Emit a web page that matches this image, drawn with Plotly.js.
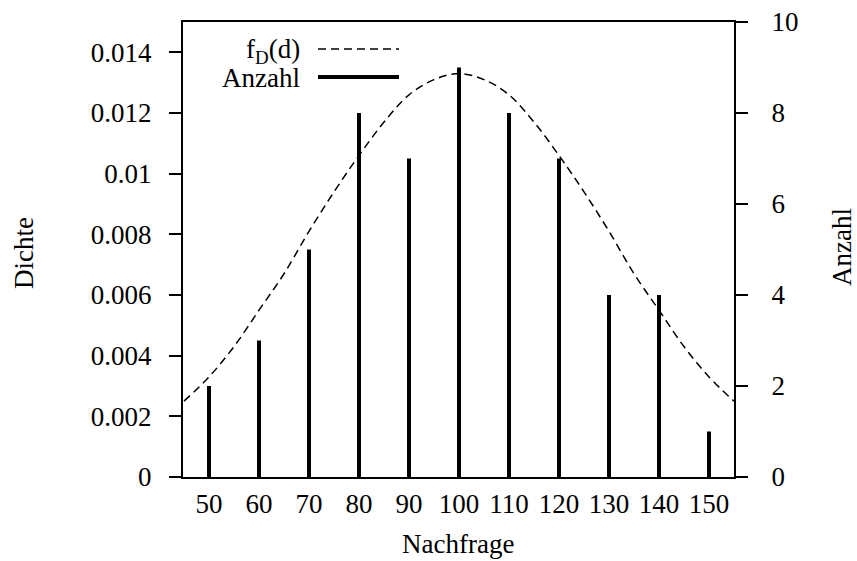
<!DOCTYPE html>
<html><head><meta charset="utf-8">
<script src="https://cdn.plot.ly/plotly-3.0.1.min.js"></script>
<style>body{margin:0;background:#fff}#c{width:857px;height:561px}</style>
</head><body><div id="c"></div>
<script>
// Counts (impulses, right axis)
const nachfrage = [50, 60, 70, 80, 90, 100, 110, 120, 130, 140, 150];
const anzahl = [2, 3, 5, 8, 7, 9, 8, 7, 4, 4, 1];
// Density curve (left axis)
const dX = [45, 50, 55, 60, 65, 70, 75, 80, 85, 90, 95, 100, 105, 110, 115, 120, 125, 130, 135, 140, 145, 150, 155];
const dY = [0.0025, 0.0033, 0.0043, 0.0055, 0.0067, 0.0081, 0.0094, 0.0106, 0.0117, 0.0126, 0.0131, 0.0133,
            0.0131, 0.0126, 0.0117, 0.0106, 0.0094, 0.0081, 0.0067, 0.0055, 0.0043, 0.0033, 0.0025];
const xTicks = [50, 60, 70, 80, 90, 100, 110, 120, 130, 140, 150];
const yTicks = [0, 0.002, 0.004, 0.006, 0.008, 0.01, 0.012, 0.014];
const yTickText = ['0', '0.002', '0.004', '0.006', '0.008', '0.01', '0.012', '0.014'];
const y2Ticks = [0, 2, 4, 6, 8, 10];

const F = {family: 'Liberation Serif, Times New Roman, serif', size: 27, color: '#000'};

const traces = [
  {type: 'scatter', mode: 'lines', x: dX, y: dY, yaxis: 'y',
   line: {color: '#000', width: 1.5, dash: '8px,5px', shape: 'spline'}, hoverinfo: 'skip'},
  {type: 'bar', x: nachfrage, y: anzahl, yaxis: 'y2', width: 0.8,
   marker: {color: '#000', line: {width: 0}}, hoverinfo: 'skip'}
];

const px2x = p => (p - 183) / 551;
const px2y = p => (477 - p) / 455;

const layout = {
  width: 857, height: 561,
  margin: {l: 183, r: 123, t: 22, b: 84},
  paper_bgcolor: '#fff', plot_bgcolor: '#fff',
  showlegend: false, font: F,
  xaxis: {range: [44.8, 155], tickvals: xTicks, ticks: 'inside', ticklen: 8, tickwidth: 2, tickcolor: '#000',
          showline: true, linecolor: '#000', linewidth: 2, mirror: true, showgrid: false, zeroline: false,
          ticklabelstandoff: 2, tickfont: F},
  yaxis: {range: [0, 0.015], tickvals: yTicks, ticktext: yTickText, ticks: 'outside', ticklen: 12, tickwidth: 2,
          tickcolor: '#000', showline: true, linecolor: '#000', linewidth: 2, showgrid: false, zeroline: false,
          ticklabelstandoff: 12, tickfont: F},
  yaxis2: {range: [0, 10], tickvals: y2Ticks, overlaying: 'y', side: 'right', ticks: 'outside', ticklen: 12,
           tickwidth: 2, tickcolor: '#000', showline: true, linecolor: '#000', linewidth: 2,
           showgrid: false, zeroline: false, ticklabelstandoff: 18, tickfont: F},
  annotations: [
    {text: 'Nachfrage', xref: 'paper', yref: 'paper', x: px2x(458), y: px2y(544), showarrow: false,
     xanchor: 'center', yanchor: 'middle', font: F},
    {text: 'Dichte', xref: 'paper', yref: 'paper', x: px2x(24), y: px2y(253), showarrow: false,
     textangle: -90, xanchor: 'center', yanchor: 'middle', font: F},
    {text: 'Anzahl', xref: 'paper', yref: 'paper', x: px2x(842), y: px2y(247), showarrow: false,
     textangle: -90, xanchor: 'center', yanchor: 'middle', font: F},
    {text: 'f<sub>D</sub>(d)', xref: 'paper', yref: 'paper', x: px2x(302), y: px2y(51), showarrow: false,
     xanchor: 'right', yanchor: 'middle', font: F},
    {text: 'Anzahl', xref: 'paper', yref: 'paper', x: px2x(302), y: px2y(78), showarrow: false,
     xanchor: 'right', yanchor: 'middle', font: F}
  ],
  shapes: [
    {type: 'line', xref: 'paper', yref: 'paper', x0: px2x(318), x1: px2x(399), y0: px2y(49), y1: px2y(49),
     line: {color: '#000', width: 1.5, dash: '8px,5px'}},
    {type: 'line', xref: 'paper', yref: 'paper', x0: px2x(318), x1: px2x(399), y0: px2y(77), y1: px2y(77),
     line: {color: '#000', width: 4}}
  ]
};

Plotly.newPlot('c', traces, layout, {staticPlot: true, displayModeBar: false});
</script></body></html>
